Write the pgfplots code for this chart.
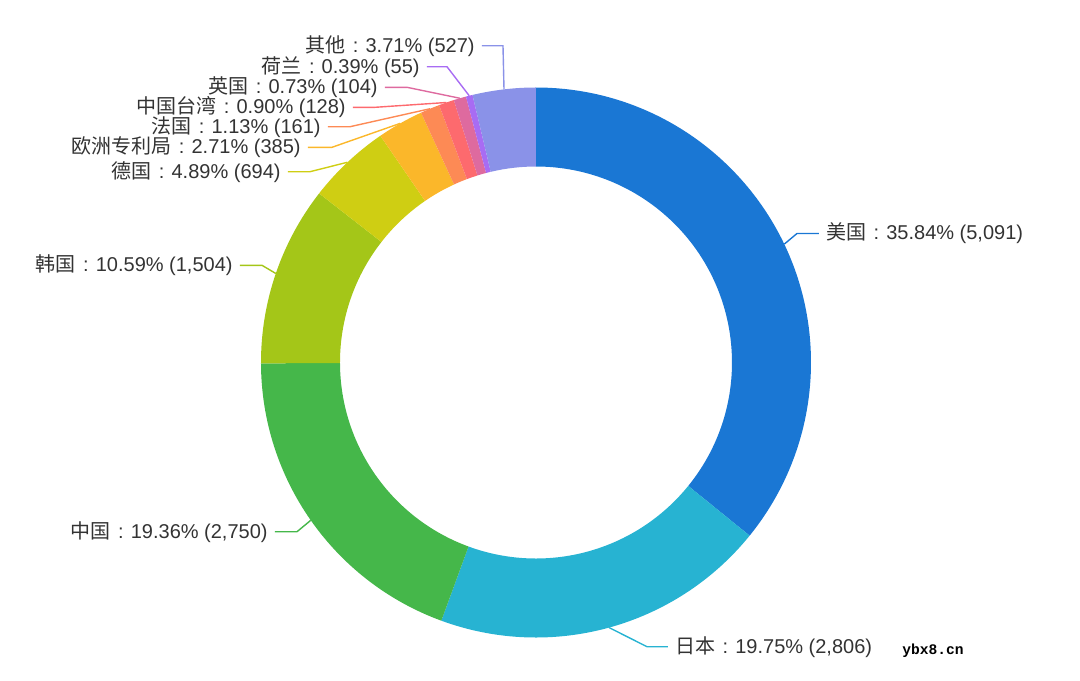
\documentclass[border=0pt]{standalone}
\usepackage{pgfplots}
\pgfplotsset{compat=1.18}
\usepackage{pgfplotstable}
\usepackage{fontspec}
\setmainfont{Liberation Sans}
\setmonofont{Liberation Mono}
\newfontfamily\cjk{Noto Sans CJK SC}

\definecolor{cUS}{HTML}{1A77D4}
\definecolor{cJP}{HTML}{27B3D2}
\definecolor{cCN}{HTML}{45B74A}
\definecolor{cKR}{HTML}{A4C618}
\definecolor{cDE}{HTML}{CFCE13}
\definecolor{cEP}{HTML}{FBB72A}
\definecolor{cFR}{HTML}{FD8A55}
\definecolor{cTW}{HTML}{FD6A6E}
\definecolor{cGB}{HTML}{DE6A9F}
\definecolor{cNL}{HTML}{A86CF3}
\definecolor{cOT}{HTML}{8A92E8}
\definecolor{txt}{HTML}{333333}

% value per country; label line: y, bend x, end x (pixels, y down), side
\pgfplotstableread{
name value col ly lxa lxb side
美国 5091 cUS 233.5 797 819 1
日本 2806 cJP 646.7 647 668 1
中国 2750 cCN 531.7 297 275 -1
韩国 1504 cKR 265.3 262 240 -1
德国 694 cDE 171.7 310 288 -1
欧洲专利局 385 cEP 147.3 332 308 -1
法国 161 cFR 126.7 350 328 -1
中国台湾 128 cTW 107.3 375 353 -1
英国 104 cGB 87.3 407 385 -1
荷兰 55 cNL 66.7 447 427 -1
其他 527 cOT 45.7 503 482 -1
}\tbl

\pgfplotstablegetrowsof{\tbl}
\pgfmathtruncatemacro\last{\pgfplotsretval-1}
\xdef\tot{0}
\foreach \i in {0,...,\last}{%
  \pgfplotstablegetelem{\i}{value}\of\tbl
  \xdef\tot{\fpeval{\tot+\pgfplotsretval}}%
}

\begin{document}
\begin{tikzpicture}
\begin{axis}[
    hide axis,
    scale only axis,
    x=0.5bp, y=0.5bp,
    xmin=0, xmax=1080, ymin=0, ymax=681,
    clip=false,
    at={(0,0)}, anchor=south west,
]
\addplot[draw=none] coordinates {(0,0) (1080,681)};
\pgfplotsextra{%
  \xdef\cum{0}%
  \foreach \i in {0,...,\last}{%
    \pgfplotstablegetelem{\i}{name}\of\tbl \let\nm\pgfplotsretval
    \pgfplotstablegetelem{\i}{value}\of\tbl \let\v\pgfplotsretval
    \pgfplotstablegetelem{\i}{col}\of\tbl \let\col\pgfplotsretval
    \pgfplotstablegetelem{\i}{ly}\of\tbl \let\ly\pgfplotsretval
    \pgfplotstablegetelem{\i}{lxa}\of\tbl \let\lxa\pgfplotsretval
    \pgfplotstablegetelem{\i}{lxb}\of\tbl \let\lxb\pgfplotsretval
    \pgfplotstablegetelem{\i}{side}\of\tbl \let\side\pgfplotsretval
    \edef\aA{\fpeval{round(90-360*\cum/\tot,4)}}%
    \edef\aB{\fpeval{round(90-360*(\cum+\v)/\tot,4)}}%
    \edef\aM{\fpeval{round((\aA+\aB)/2,4)}}%
    \edef\xA{\fpeval{round(536+275*cosd(\aA),3)}}%
    \edef\yA{\fpeval{round(318.5+275*sind(\aA),3)}}%
    \edef\xB{\fpeval{round(536+196*cosd(\aB),3)}}%
    \edef\yB{\fpeval{round(318.5+196*sind(\aB),3)}}%
    \edef\xM{\fpeval{round(536+275*cosd(\aM),3)}}%
    \edef\yM{\fpeval{round(318.5+275*sind(\aM),3)}}%
    \edef\yl{\fpeval{681-\ly}}%
    \edef\tx{\fpeval{\lxb+7*\side}}%
    \edef\pct{\fpeval{100*\v/\tot}}%
    \fill[\col] (axis cs:\xA,\yA) arc[start angle=\aA, end angle=\aB, radius=137.5bp]
      -- (axis cs:\xB,\yB) arc[start angle=\aB, end angle=\aA, radius=98bp] -- cycle;
    \draw[\col, line width=0.7bp] (axis cs:\xM,\yM) -- (axis cs:\lxa,\yl) -- (axis cs:\lxb,\yl);
    \ifnum\side>0 \def\anc{west}\else\def\anc{east}\fi
    \node[anchor=\anc, inner sep=0pt, text=txt, font=\fontsize{10bp}{12bp}\selectfont]
      at (axis cs:\tx,\yl)
      {{\cjk\nm}\hspace{0.36em}:\hspace{0.36em}\pgfmathprintnumber[assume math mode=true,fixed,fixed zerofill,precision=2]{\pct}\%
       (\pgfmathprintnumber[assume math mode=true,1000 sep={,}]{\v})};
    \xdef\cum{\fpeval{\cum+\v}}%
  }%
  \node[anchor=west, inner sep=0pt, font=\ttfamily\bfseries\fontsize{7.3bp}{9bp}\selectfont]
    at (axis cs:902,30.3) {ybx8.cn};
}
\end{axis}
\pgfresetboundingbox
\useasboundingbox (0,0) rectangle (540bp,340.5bp);
\end{tikzpicture}
\end{document}
